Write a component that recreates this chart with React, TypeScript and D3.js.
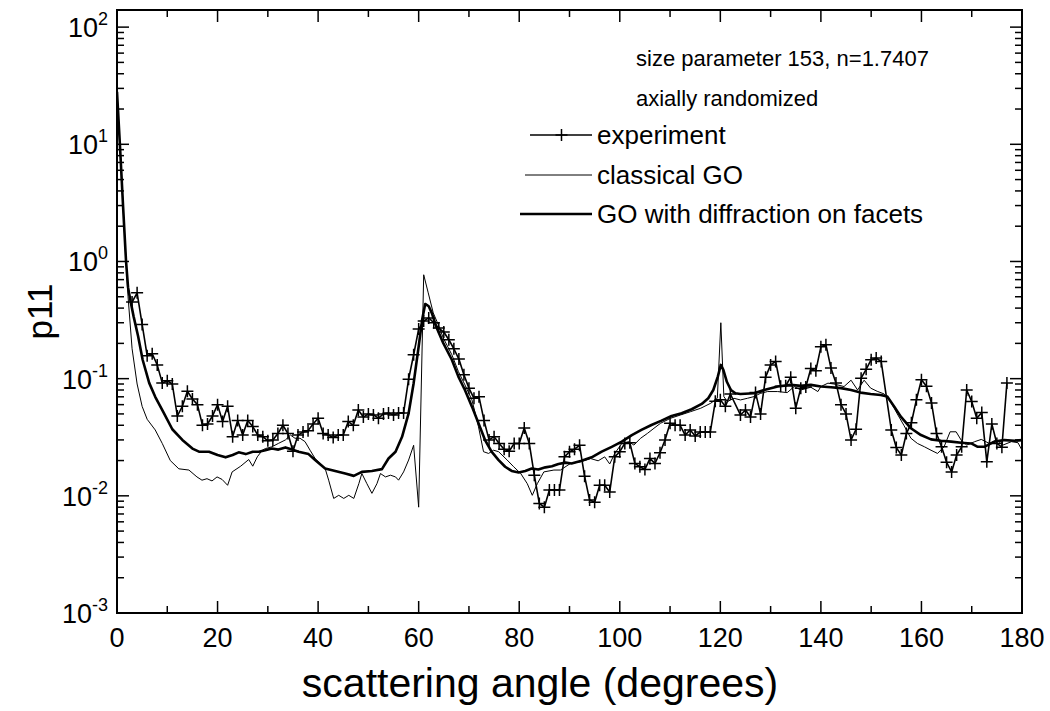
import React from "react";
import * as d3 from "d3";

// ---- experiment (crosses), degrees / p11 ----
const expAngles = [
  3, 4, 5, 6, 7, 8, 9, 10, 11, 12, 13, 14, 15, 16, 17, 18, 19, 20, 21, 22, 23, 24, 25, 26, 27, 28, 29, 30,
  31, 32, 33, 34, 35, 36, 37, 38, 39, 40, 41, 42, 43, 44, 45, 46, 47, 48, 49, 50, 51, 52, 53, 54, 55, 56, 57,
  58, 59, 60, 61, 62, 63, 64, 65, 66, 67, 68, 69, 70, 71, 72, 73, 74, 75, 76, 77, 78, 79, 80, 81, 82, 83, 84,
  85, 86, 87, 88, 89, 90, 91, 92, 93, 94, 95, 96, 97, 98, 99, 100, 101, 102, 103, 104, 105, 106, 107, 108,
  109, 110, 111, 112, 113, 114, 115, 116, 117, 118, 119, 120, 121, 122, 124, 125, 126, 127, 128, 129, 130,
  131, 132, 133, 134, 135, 136, 137, 138, 139, 140, 141, 142, 143, 144, 145, 146, 147, 148, 149, 150, 151,
  152, 154, 155, 156, 157, 158, 159, 160, 161, 162, 163, 164, 165, 166, 167, 168, 169, 170, 171, 172, 173,
  174, 175, 176, 177,
];
const expValues = [
  0.45, 0.54, 0.29, 0.157, 0.163, 0.131, 0.092, 0.096, 0.09, 0.048, 0.058, 0.078, 0.067, 0.06, 0.04, 0.041,
  0.048, 0.06, 0.043, 0.058, 0.032, 0.044, 0.033, 0.044, 0.039, 0.033, 0.032, 0.0295,
  0.03, 0.034, 0.04, 0.034, 0.024, 0.033, 0.035, 0.036, 0.041, 0.046, 0.034, 0.033, 0.0315, 0.033, 0.033,
  0.043, 0.04, 0.054, 0.047, 0.05, 0.049, 0.046, 0.05, 0.051, 0.049, 0.051, 0.051,
  0.099, 0.16, 0.265, 0.31, 0.33, 0.3, 0.27, 0.25, 0.215, 0.18, 0.147, 0.108, 0.083, 0.068, 0.07, 0.044,
  0.03, 0.032, 0.028, 0.025, 0.024, 0.028, 0.028, 0.038, 0.028, 0.015, 0.0086,
  0.008, 0.0112, 0.0112, 0.0112, 0.0215, 0.0238, 0.025, 0.027, 0.0147, 0.0092, 0.0088, 0.0123, 0.0123,
  0.0108, 0.0215, 0.0238, 0.028, 0.0284, 0.0189, 0.0177, 0.0168, 0.0208, 0.0189, 0.0233,
  0.03, 0.0416, 0.04, 0.04, 0.033, 0.0365, 0.0324, 0.035, 0.035, 0.035, 0.064, 0.066, 0.058, 0.074, 0.049,
  0.054, 0.047, 0.076, 0.05, 0.103, 0.131,
  0.14, 0.086, 0.087, 0.103, 0.056, 0.083, 0.085, 0.122, 0.117, 0.187, 0.195, 0.123, 0.092, 0.06, 0.05,
  0.03, 0.037, 0.101, 0.12, 0.145, 0.15,
  0.14, 0.0365, 0.0258, 0.0223, 0.034, 0.042, 0.066, 0.098, 0.086, 0.062, 0.034, 0.0262, 0.0193, 0.016,
  0.0223, 0.0262, 0.08, 0.0637, 0.046, 0.0513, 0.0195,
  0.041, 0.028, 0.026, 0.092,
];

// ---- classical GO (thin line) ----
const goAngles = [
  0, 0.6, 1.2, 1.8, 2.2, 3, 4, 5, 6, 7.6, 9, 10.6, 12.3, 14.3, 15.9, 16.9, 17.9, 18.9, 19.9, 20.9, 22, 22.9,
  24.6, 26.2, 27, 27.9, 28.9, 29.5, 30.8, 32.1, 33.5, 34.5, 35.4, 36.4, 37.4, 38.4, 39.4, 40.4, 41.4, 42.1,
  43.1, 44.1, 45.1, 46.1, 47.1, 48.1, 48.7, 49.7, 50.7, 51.7, 52.4, 53.4, 54.4, 55.4, 56, 57, 58, 59, 60, 61,
  61.9, 62.9, 63.9, 64.9, 66.6, 67.9, 69.2, 70.6, 71.9, 72.9, 73.9, 74.9, 75.9, 77.6, 78.9, 80.3, 81.6, 82.6,
  83.6, 84.9, 86.9, 88.2, 90.2, 92.2, 94.2, 95.7, 97, 98, 99, 100.4, 101.8, 102.8, 104.1, 105.5, 106.8, 108.1,
  110.1, 112.1, 114.1, 116.1, 118.1, 119.4, 120.1, 120.7, 121.4, 122.7, 124, 125.4, 126.7, 128, 129.4, 131.4,
  133.3, 134.7, 136, 138, 139.4, 140, 141.4, 142.6, 144.6, 146, 147.3, 148.6, 149.9, 151.2, 152.6, 154, 155.2,
  156.5, 157.9, 159.2, 160.6, 161.9, 163.2, 164.5, 165.7, 166.9, 167.9, 169, 170.6, 171.9, 173.5, 175,
  176.2, 177.9, 179.2, 180,
];
const goValues = [
  28, 9.5, 3.0, 1.0, 0.5, 0.18, 0.09, 0.058, 0.045, 0.0365, 0.028, 0.02, 0.017, 0.0166, 0.0145, 0.0136,
  0.014, 0.0134, 0.0145, 0.0138, 0.0123, 0.016,
  0.0179, 0.0204, 0.0179, 0.0215, 0.0245, 0.0253, 0.0262, 0.028, 0.03, 0.033, 0.031, 0.031, 0.029, 0.0245,
  0.0208, 0.0189, 0.0171, 0.0136,
  0.0095, 0.0101, 0.0095, 0.0101, 0.0095, 0.0127, 0.0155, 0.0127, 0.0105, 0.0127, 0.0155, 0.0145, 0.015,
  0.0145, 0.0136, 0.016, 0.0202, 0.027, 0.008, 0.77,
  0.54, 0.364, 0.289, 0.222, 0.16, 0.115, 0.0885, 0.0658, 0.0389, 0.0238, 0.023, 0.0245, 0.0238, 0.0202,
  0.0177, 0.0155, 0.0127, 0.0101,
  0.0127, 0.016, 0.0166, 0.0166, 0.0189, 0.0195, 0.0208, 0.0199, 0.0215, 0.0187, 0.023, 0.028, 0.029, 0.0271,
  0.0309, 0.0341, 0.0377, 0.0416,
  0.0459, 0.049, 0.0523, 0.0559, 0.0617, 0.068, 0.3, 0.0703, 0.0637, 0.068, 0.0658, 0.068, 0.0703, 0.075,
  0.0776, 0.0776,
  0.076, 0.0856, 0.08, 0.0845, 0.0776, 0.0856, 0.0915, 0.09, 0.0856, 0.097, 0.08, 0.097, 0.083, 0.078, 0.074,
  0.062, 0.05,
  0.04, 0.031, 0.028, 0.0262, 0.0245, 0.023, 0.0262, 0.0352, 0.0352, 0.0299, 0.0271, 0.029, 0.0303, 0.028,
  0.0299, 0.0271, 0.029, 0.0284, 0.0245,
];

// ---- GO with diffraction on facets (thick line) ----
const difAngles = [
  0, 0.6, 1.2, 1.8, 2.2, 2.65, 3.3, 4.2, 5.1, 6.4, 7.6, 9.3, 11, 13, 15, 16.3, 18.3, 20, 21.6, 23, 24.2, 25.6,
  27, 28.2, 29.5, 30.8, 32.1, 33.5, 34.8, 36.1, 38.1, 39.4, 41.4, 43.4, 45.4, 47.1, 48.7, 50.7, 52.7, 54, 55.4,
  56.7, 58, 59, 60, 60.7, 61.3, 62, 62.6, 63.6, 64.9, 66.6, 67.9, 69.2, 70.6, 71.9, 73.2, 74.5, 75.9, 77.2,
  78.5, 79.9, 81.2, 82.5, 83.8, 85.2, 86.5, 87.8, 89.2, 90.4, 92.4, 94.4, 96.4, 98.4, 100.4, 102.4, 104.3,
  106.3, 108.3, 110.3, 112.3, 114.3, 116.3, 117.6, 118.6, 119.5, 120.1, 120.6, 121.3, 122.1, 123, 124, 126.7,
  128.7, 131.4, 134, 136, 138, 140, 142, 144, 146, 147.9, 149.9, 151.9, 153.2, 154.6, 155.9, 157.9, 159.9,
  161.9, 163.9, 165.9, 167.9, 169.9, 171.2, 172.5, 174.5, 176.5, 178.5, 180,
];
const difValues = [
  28, 9.5, 3.0, 1.0, 0.6, 0.47, 0.34, 0.23, 0.145, 0.092, 0.07, 0.051, 0.037, 0.03, 0.0253, 0.0238, 0.0238,
  0.0223, 0.0213, 0.0223, 0.0235, 0.0227,
  0.0238, 0.0238, 0.0245, 0.0253, 0.0248, 0.0259, 0.0248, 0.0238, 0.0227, 0.0202, 0.0171, 0.0163, 0.0155,
  0.0148, 0.016, 0.0163, 0.0169, 0.0208, 0.0238,
  0.0319, 0.0506, 0.0915, 0.188, 0.319, 0.434, 0.415, 0.364, 0.27, 0.201, 0.145, 0.104, 0.08, 0.0577, 0.0416,
  0.0299, 0.0238, 0.0202, 0.0177,
  0.0163, 0.0158, 0.0163, 0.0171, 0.0168, 0.0175, 0.0179, 0.0187, 0.0192, 0.0189, 0.0199, 0.0213, 0.0238,
  0.0262, 0.029, 0.033, 0.0365,
  0.0402, 0.0438, 0.048, 0.0506, 0.0548, 0.0608, 0.068, 0.08, 0.104, 0.131, 0.119, 0.094, 0.08, 0.075, 0.074,
  0.075,
  0.08, 0.0856, 0.0885, 0.0867, 0.0885, 0.0856, 0.0845, 0.083, 0.08, 0.076, 0.074, 0.0726, 0.0703, 0.0577,
  0.0474, 0.0377, 0.033,
  0.0303, 0.0295, 0.029, 0.0284, 0.028, 0.0262, 0.0262, 0.029, 0.0299, 0.0295, 0.0299,
];

const xMajorTicks = [0, 20, 40, 60, 80, 100, 120, 140, 160, 180];
const xMinorTicks = [10, 30, 50, 70, 90, 110, 130, 150, 170];
const yDecades = [-3, -2, -1, 0, 1, 2];
const yMinorMultipliers = [2, 3, 4, 5, 6, 7, 8, 9];
const legendHeader = ["size parameter 153, n=1.7407", "axially randomized"];
const legendLabels = ["experiment", "classical GO", "GO with diffraction on facets"];

const FONT = "'Liberation Sans', Arial, Helvetica, sans-serif";

export default function App() {
  const W = 1050;
  const H = 711;
  const left = 117;
  const right = 1022;
  const top = 10;
  const bottom = 613;

  const x = d3.scaleLinear().domain([0, 180]).range([left, right]);
  const y = d3.scaleLog().domain([1e-3, 140]).range([bottom, top]);

  const line = d3
    .line<[number, number]>()
    .x((d) => x(d[0]))
    .y((d) => y(d[1]));

  const expPts: [number, number][] = expAngles.map((a, i) => [a, expValues[i]]);
  const goPts: [number, number][] = goAngles.map((a, i) => [a, goValues[i]]);
  const difPts: [number, number][] = difAngles.map((a, i) => [a, difValues[i]]);

  const majorLen = 12;
  const minorLen = 7;

  const yMinorVals: number[] = [];
  yDecades.forEach((d) => {
    yMinorMultipliers.forEach((m) => {
      const v = m * Math.pow(10, d);
      if (v < 140) yMinorVals.push(v);
    });
  });

  const cross = (cx: number, cy: number, key: string | number, s = 6) => (
    <path key={key} d={`M${cx - s},${cy}H${cx + s}M${cx},${cy - s}V${cy + s}`} stroke="#000" strokeWidth={1.5} fill="none" />
  );

  const legX1 = 525;
  const legX2 = 592;
  const legTextX = 597;
  const legY = [135, 175, 214];
  const legFont = 26;
  const headFont = 22;

  return (
    <svg width={W} height={H} style={{ position: "absolute", left: 0, top: 0, background: "#fff" }} fontFamily={FONT}>
      <rect x={0} y={0} width={W} height={H} fill="#fff" />
      <defs>
        <clipPath id="plotClip">
          <rect x={left} y={top} width={right - left} height={bottom - top} />
        </clipPath>
      </defs>

      {/* data */}
      <g clipPath="url(#plotClip)">
        <path d={line(goPts) || ""} fill="none" stroke="#000" strokeWidth={1} strokeLinejoin="round" />
        <path d={line(difPts) || ""} fill="none" stroke="#000" strokeWidth={2.6} strokeLinejoin="round" />
        <path d={line(expPts) || ""} fill="none" stroke="#000" strokeWidth={1.6} strokeLinejoin="round" />
        {expPts.map((p, i) => cross(x(p[0]), y(p[1]), i))}
      </g>

      {/* frame */}
      <rect x={left} y={top} width={right - left} height={bottom - top} fill="none" stroke="#000" strokeWidth={2} />

      {/* x ticks */}
      {xMajorTicks.map((t) => (
        <g key={"xM" + t}>
          <line x1={x(t)} x2={x(t)} y1={bottom} y2={bottom - majorLen} stroke="#000" strokeWidth={1.5} />
          <line x1={x(t)} x2={x(t)} y1={top} y2={top + majorLen} stroke="#000" strokeWidth={1.5} />
          <text x={x(t)} y={647} textAnchor="middle" fontSize={27}>
            {t}
          </text>
        </g>
      ))}
      {xMinorTicks.map((t) => (
        <g key={"xm" + t}>
          <line x1={x(t)} x2={x(t)} y1={bottom} y2={bottom - minorLen} stroke="#000" strokeWidth={1.5} />
          <line x1={x(t)} x2={x(t)} y1={top} y2={top + minorLen} stroke="#000" strokeWidth={1.5} />
        </g>
      ))}

      {/* y ticks */}
      {yDecades.map((d) => {
        const yy = y(Math.pow(10, d));
        return (
          <g key={"yM" + d}>
            <line x1={left} x2={left + majorLen} y1={yy} y2={yy} stroke="#000" strokeWidth={1.5} />
            <line x1={right} x2={right - majorLen} y1={yy} y2={yy} stroke="#000" strokeWidth={1.5} />
            <text x={108} y={yy + 10} textAnchor="end" fontSize={27}>
              <tspan>10</tspan>
              <tspan dy={-12} fontSize={18}>
                {d}
              </tspan>
            </text>
          </g>
        );
      })}
      {yMinorVals.map((v, i) => (
        <g key={"ym" + i}>
          <line x1={left} x2={left + minorLen} y1={y(v)} y2={y(v)} stroke="#000" strokeWidth={1.5} />
          <line x1={right} x2={right - minorLen} y1={y(v)} y2={y(v)} stroke="#000" strokeWidth={1.5} />
        </g>
      ))}

      {/* axis titles */}
      <text x={540} y={697} textAnchor="middle" fontSize={41}>
        scattering angle (degrees)
      </text>
      <text transform={`translate(52,${(top + bottom) / 2}) rotate(-90)`} textAnchor="middle" fontSize={35}>
        p11
      </text>

      {/* legend */}
      <text x={636} y={66} fontSize={headFont}>
        {legendHeader[0]}
      </text>
      <text x={636} y={106} fontSize={headFont}>
        {legendHeader[1]}
      </text>
      <line x1={legX1 + 5} x2={legX2} y1={legY[0]} y2={legY[0]} stroke="#000" strokeWidth={1.6} />
      {cross((legX1 + legX2) / 2 + 3, legY[0], "legcross")}
      <text x={legTextX} y={legY[0] + 9} fontSize={legFont}>
        {legendLabels[0]}
      </text>
      <line x1={legX1} x2={legX2} y1={legY[1]} y2={legY[1]} stroke="#000" strokeWidth={1} />
      <text x={legTextX} y={legY[1] + 9} fontSize={legFont}>
        {legendLabels[1]}
      </text>
      <line x1={legX1 - 5} x2={legX2} y1={legY[2]} y2={legY[2]} stroke="#000" strokeWidth={2.6} />
      <text x={legTextX} y={legY[2] + 9} fontSize={legFont}>
        {legendLabels[2]}
      </text>
    </svg>
  );
}
